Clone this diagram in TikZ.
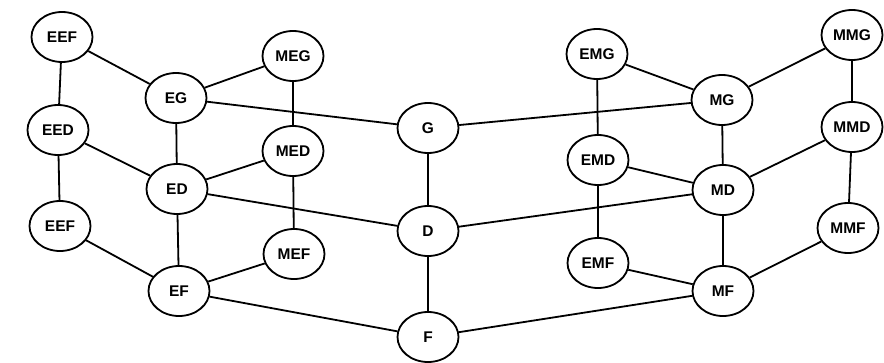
\documentclass[tikz,border=0pt]{standalone}
\usepackage{fontspec}
\setmainfont{Liberation Sans}
\usetikzlibrary{shapes.geometric}
\begin{document}
\begin{tikzpicture}[x=1pt,y=-1pt,
  st/.style={ellipse,draw,line width=1.8pt,minimum width=61pt,minimum height=50pt,inner sep=0pt,
    font=\fontsize{15.5}{16}\selectfont\bfseries,fill=white},
  ln/.style={line width=1.8pt}]
\useasboundingbox (0,0) rectangle (884,362);
\node[st] (EEF1) at (62,37) {EEF};
\node[st] (EG) at (176,98) {EG};
\node[st] (MEG) at (293,56) {MEG};
\node[st] (EED) at (58,130) {EED};
\node[st] (MED) at (293,151) {MED};
\node[st] (G) at (428,128) {G};
\node[st] (ED) at (177,189) {ED};
\node[st] (EEF2) at (60,226) {EEF};
\node[st] (D) at (428,231) {D};
\node[st] (MEF) at (294,254) {MEF};
\node[st] (EF) at (179,291) {EF};
\node[st] (F) at (428,337) {F};
\node[st] (EMG) at (597,54) {EMG};
\node[st] (MG) at (722,100) {MG};
\node[st] (MMG) at (852,35) {MMG};
\node[st] (MMD) at (852,127) {MMD};
\node[st] (EMD) at (598,160) {EMD};
\node[st] (MD) at (723,190) {MD};
\node[st] (MMF) at (848,228) {MMF};
\node[st] (EMF) at (598,263) {EMF};
\node[st] (MF) at (723,291) {MF};
\draw[ln] (EEF1) -- (EG);
\draw[ln] (EEF1) -- (EED);
\draw[ln] (EG) -- (MEG);
\draw[ln] (EG) -- (G);
\draw[ln] (EG) -- (ED);
\draw[ln] (MEG) -- (MED);
\draw[ln] (EED) -- (ED);
\draw[ln] (EED) -- (EEF2);
\draw[ln] (MED) -- (ED);
\draw[ln] (MED) -- (MEF);
\draw[ln] (ED) -- (D);
\draw[ln] (ED) -- (EF);
\draw[ln] (EEF2) -- (EF);
\draw[ln] (MEF) -- (EF);
\draw[ln] (EF) -- (F);
\draw[ln] (G) -- (D);
\draw[ln] (D) -- (F);
\draw[ln] (G) -- (MG);
\draw[ln] (EMG) -- (MG);
\draw[ln] (EMG) -- (EMD);
\draw[ln] (MG) -- (MMG);
\draw[ln] (MG) -- (MD);
\draw[ln] (MMG) -- (MMD);
\draw[ln] (MMD) -- (MD);
\draw[ln] (EMD) -- (MD);
\draw[ln] (EMD) -- (EMF);
\draw[ln] (D) -- (MD);
\draw[ln] (MD) -- (MF);
\draw[ln] (EMF) -- (MF);
\draw[ln] (MMF) -- (MF);
\draw[ln] (MMD) -- (MMF);
\draw[ln] (F) -- (MF);
\end{tikzpicture}
\end{document}
